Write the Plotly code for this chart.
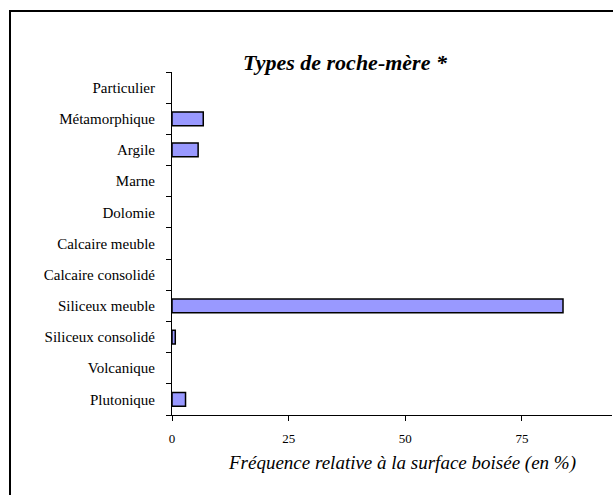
"""Types de roche-mère : fréquence relative à la surface boisée."""

import plotly.graph_objects as go

CATEGORIES = [
    "Plutonique",
    "Volcanique",
    "Siliceux consolidé",
    "Siliceux meuble",
    "Calcaire consolidé",
    "Calcaire meuble",
    "Dolomie",
    "Marne",
    "Argile",
    "Métamorphique",
    "Particulier",
]
VALEURS = [2.9, 0, 0.7, 83.8, 0, 0, 0, 0, 5.6, 6.7, 0]
X_TICKS = [0, 25, 50, 75]

SERIF = "Liberation Serif, Times New Roman, serif"
W, H = 613, 495
L, R, T, B = 172, 1, 72, 80
PW, PH = W - L - R, H - T - B

fig = go.Figure(
    go.Bar(
        # les valeurs nulles ne sont pas dessinées (sinon un trait de contour apparaît)
        x=[v if v else None for v in VALEURS],
        y=CATEGORIES,
        orientation="h",
        width=0.44,
        marker=dict(color="#9999ff", line=dict(color="black", width=1.5)),
        hoverinfo="x+y",
    )
)

fig.update_layout(
    width=W,
    height=H,
    margin=dict(l=L, r=R, t=T, b=B, pad=0),
    paper_bgcolor="white",
    plot_bgcolor="white",
    showlegend=False,
    font=dict(family=SERIF, color="black", size=14),
    title=dict(
        text="<b><i>Types de roche-mère *</i></b>",
        font=dict(family=SERIF, size=22, color="black"),
        x=345 / W,
        xanchor="center",
        xref="container",
        y=1 - 62 / H,
        yanchor="middle",
        yref="container",
    ),
)

fig.update_xaxes(
    range=[0, 94.3],
    tickvals=X_TICKS,
    ticks="outside",
    ticklen=5,
    tickcolor="black",
    ticklabelstandoff=6,
    tickfont=dict(size=13, color="black"),
    showline=True,
    linecolor="black",
    linewidth=1,
    showgrid=False,
    zeroline=False,
    fixedrange=True,
)
fig.update_yaxes(
    categoryorder="array",
    categoryarray=CATEGORIES,
    ticks="outside",
    tickson="boundaries",
    ticklen=5,
    tickcolor="black",
    ticklabelstandoff=13,
    tickfont=dict(size=15, color="black"),
    showline=True,
    linecolor="black",
    linewidth=1,
    showgrid=False,
    fixedrange=True,
)

fig.add_annotation(
    text="<i>Fréquence relative à la surface boisée (en %)</i>",
    xref="paper",
    yref="paper",
    x=(402 - L) / PW,
    y=(H - B - 463) / PH,
    xanchor="center",
    yanchor="middle",
    showarrow=False,
    font=dict(family=SERIF, size=19, color="black"),
)

# cadre du graphique : seuls les bords gauche et haut sont visibles
fig.add_shape(
    type="rect", xref="paper", yref="paper",
    x0=(10 - L) / PW, x1=1.3,
    y0=(H - B - 11) / PH, y1=-0.6,
    line=dict(color="black", width=2),
    fillcolor="rgba(0,0,0,0)",
    layer="below",
)

fig.write_html(
    "out.html",
    config={"displayModeBar": False},
    post_script="document.body.style.margin='0';document.body.style.overflow='hidden';",
)
